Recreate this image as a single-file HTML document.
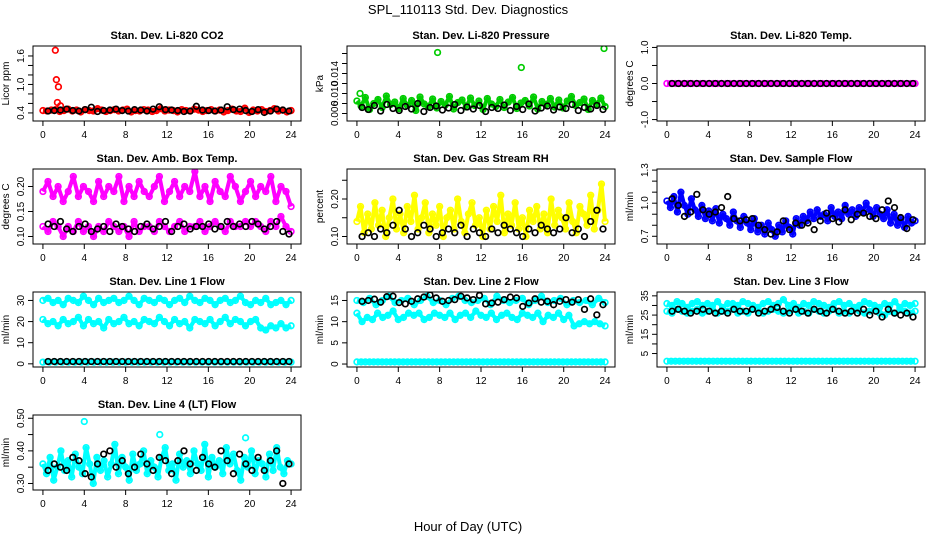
<!DOCTYPE html>
<html><head><meta charset="utf-8"><style>
body{margin:0;background:#fff}
svg{display:block;font-family:"Liberation Sans",sans-serif}
</style></head><body>
<svg id="c" width="936" height="540" viewBox="0 0 936 540">
<text x="468" y="14" text-anchor="middle" font-size="13">SPL_110113  Std. Dev. Diagnostics</text>
<text x="468" y="531" text-anchor="middle" font-size="13">Hour of Day (UTC)</text>
</svg>
<script>
const xTicks=[0,4,8,12,16,20,24];
const co2Red=[.45,.44,.46,.47,.43,.45,.48,.44,.46,.42,.47,.45,.44,.49,.46,.43,.45,.47,.44,.46,.48,.42,.45,.44,.47,.46,.43,.45,.49,.44,.46,.45,.42,.47,.45,.44,.48,.46,.43,.45,.47,.44,.46,.42,.45,.48,.44,.43,.50,.41,.46,.44,.47,.43,.45,.49,.44,.46,.42,.45];
const co2Black=[.44,.45,.46,.48,.45,.44,.47,.52,.43,.45,.46,.48,.45,.44,.47,.46,.44,.48,.53,.47,.46,.45,.43,.44,.54,.46,.45,.44,.46,.53,.47,.48,.45,.43,.47,.41,.44,.48,.46,.44];
const co2OutX=[1.2,1.3,1.5,1.4,1.7];
const co2OutY=[1.72,1.1,0.95,0.62,0.55];
const presGreen=[.0085,.0075,.0092,.0068,.0080,.0088,.0072,.0095,.0078,.0083,.0070,.0090,.0076,.0086,.0066,.0093,.0079,.0074,.0089,.0071,.0084,.0077,.0094,.0069,.0082,.0087,.0073,.0091,.0076,.0085,.0068,.0090,.0079,.0074,.0088,.0072,.0083,.0092,.0070,.0081,.0086,.0075,.0093,.0069,.0084,.0078,.0090,.0073,.0087,.0071,.0085,.0094,.0076,.0082,.0089,.0068,.0086,.0079,.0091,.0074];
const presBlack=[.0072,.0068,.0076,.0065,.0078,.0070,.0066,.0074,.0069,.0080,.0064,.0072,.0075,.0067,.0071,.0078,.0066,.0073,.0069,.0076,.0064,.0072,.0070,.0077,.0066,.0074,.0068,.0079,.0065,.0071,.0075,.0067,.0073,.0070,.0078,.0066,.0072,.0069,.0076,.0068];
const presOutX=[7.8,15.9,23.9,0.3];
const presOutY=[.0182,.0152,.0190,.0100];
const tempMag=new Array(60).fill(0);
const tempBlack=new Array(40).fill(0);
const ambHi=[.19,.21,.18,.20,.17,.19,.22,.18,.20,.19,.17,.21,.18,.20,.19,.22,.17,.20,.18,.21,.19,.18,.20,.22,.17,.19,.21,.18,.20,.19,.23,.18,.20,.17,.21,.19,.18,.22,.20,.17,.19,.21,.18,.20,.19,.22,.17,.20,.19,.16];
const ambLo=[.12,.11,.13,.12,.10,.12,.11,.13,.11,.12,.10,.12,.11,.13,.12,.11,.12,.10,.13,.11,.12,.12,.11,.13,.12,.11,.12,.13,.11,.12,.12,.13,.11,.12,.13,.12,.11,.13,.12,.12,.13,.12,.13,.12,.11,.13,.12,.14,.12,.11];
const ambBlack=[.125,.12,.13,.115,.11,.12,.125,.11,.115,.12,.11,.125,.12,.115,.11,.12,.125,.115,.12,.13,.11,.12,.125,.115,.12,.12,.125,.115,.12,.13,.12,.125,.12,.13,.125,.115,.12,.13,.11,.105];
const rhYel=[.14,.18,.11,.16,.12,.19,.13,.17,.10,.15,.20,.12,.16,.11,.18,.14,.21,.12,.15,.19,.11,.16,.13,.18,.10,.15,.17,.12,.20,.14,.11,.16,.19,.13,.15,.10,.17,.12,.18,.14,.21,.11,.16,.13,.19,.12,.15,.10,.17,.14,.18,.12,.16,.11,.20,.13,.17,.15,.12,.19,.14,.11,.18,.16,.13,.21,.12,.17,.24,.14];
const rhBlack=[.10,.11,.10,.12,.11,.13,.17,.12,.10,.11,.13,.12,.10,.11,.12,.11,.13,.10,.12,.11,.10,.12,.11,.13,.12,.11,.10,.12,.11,.13,.12,.11,.12,.15,.11,.12,.10,.14,.17,.12];
const flowBlue=[1.02,.96,1.06,.92,1.10,.98,.90,1.04,.94,.88,.98,.86,.93,.84,.95,.82,.90,.86,.80,.92,.84,.78,.88,.82,.76,.86,.74,.80,.72,.82,.76,.70,.80,.74,.84,.78,.72,.86,.80,.88,.84,.92,.86,.94,.88,.90,.84,.96,.88,.92,.86,.98,.90,.94,.88,.96,.92,1.00,.94,.88,.96,.90,.86,.94,.82,.90,.80,.86,.78,.88,.82,.84];
const flowBlack=[1.04,.98,.88,.92,1.08,.94,.90,.92,.96,1.06,.86,.84,.85,.86,.80,.76,.72,.74,.84,.76,.82,.80,.82,.76,.84,.91,.86,.83,.94,.85,.90,.91,.88,.86,.94,1.02,.96,.87,.77,.85];
const l1Hi=[30,31,29,30,28,31,30,29,32,30,28,31,29,30,31,29,30,32,30,28,31,30,29,31,30,28,30,31,29,32,30,29,31,30,28,30,31,29,30,32,29,28,30,29,31,28,29,30,28,30];
const l1Mid=[21,19,20,18,21,19,20,22,18,21,19,20,17,21,19,20,22,19,20,18,21,20,19,22,20,18,21,19,20,17,21,20,19,21,18,20,22,19,21,20,18,20,21,17,16,18,17,19,17,18];
const l1Zero=new Array(40).fill(0.8);
const l1Black=new Array(40).fill(1.1);
const l2Hi=[15,14.5,15.5,14,15,16,14.5,15,15.5,14,15,16,14.5,15,14,15.5,16,15,14.5,15,15.5,14,16,15,14.5,15,15.5,14,15,16,14.5,15,15.5,14,15,14.5,15,14,15.5,14.5];
const l2Mid=[12,10,11,10.5,12,11,11.5,12.5,10.5,11,12,11.5,12,10.5,11,12,11.5,11,12,10.5,11.5,12,11,12.5,11.5,11,12,10.5,11.5,12,11,10.5,12,11.5,11,12,10,11.5,11,12,10.5,11.5,9,9.5,10,9.5,10,9.5,9];
const l2Zero=new Array(60).fill(0.5);
const l2Black=[14.8,15,15.3,14.6,15.9,16,14.5,14.2,14.8,15.4,15.8,16.3,15.6,14.8,15,15.2,16,15.6,15.2,16.2,14.2,14.4,14.6,15.2,15.8,15.6,13.6,14.4,15.4,14.6,14.8,14,14.8,15.2,14.6,15.2,12.9,15.4,11.6,14];
const l3Hi=[31,30,32,31,29,31,32,30,31,30,32,29,31,31,30,32,31,30,29,31,32,30,31,33,30,31,29,31,30,32,31,30,29,31,32,30,31,29,30,32,31,30,29,31,30,32,29,31,30,31];
const l3Mid=[27,26,28,27,26,27,28,26,27,28,26,27,27,28,26,27,26,28,27,26,27,28,27,26,27,28,26,27,26,28,27,26,27,28,26,27,26,28,27,26,27,28,26,25,27,26,28,27,26,27];
const l3Low=new Array(60).fill(1);
const l3Black=[27,28,27,26,27,28,27,26,27,26,28,27,27,28,26,27,28,29,27,26,28,27,26,28,27,26,28,27,26,27,26,28,25,27,24,28,26,25,26,24];
const l4Cyan=[.36,.33,.38,.31,.35,.40,.34,.37,.32,.39,.35,.33,.41,.36,.30,.38,.34,.37,.32,.36,.42,.33,.38,.35,.31,.39,.34,.36,.40,.33,.37,.35,.32,.38,.41,.34,.36,.31,.39,.35,.37,.33,.40,.36,.34,.42,.32,.38,.35,.37,.33,.41,.36,.39,.34,.31,.38,.35,.40,.33,.37,.36,.32,.39,.34,.41,.35,.33,.37,.36];
const l4Black=[.34,.36,.35,.34,.38,.37,.33,.32,.36,.39,.40,.35,.37,.33,.35,.39,.36,.34,.38,.37,.33,.37,.40,.36,.34,.38,.36,.35,.40,.37,.33,.39,.36,.34,.38,.34,.37,.40,.30,.36];
const l4OutX=[4,11.3,19.6];
const l4OutY=[.49,.45,.44];

const svg=document.getElementById('c');
const NS='http://www.w3.org/2000/svg';
function mk(tag,attrs,parent){const e=document.createElementNS(NS,tag);for(const k in attrs)e.setAttribute(k,attrs[k]);parent.appendChild(e);return e;}
const colX=[33,347,657],rowY=[46,169,292,415],W=268,H=75;
function panel(col,row,title,ylab,ymin,ymax,ticks,labels,series,key){
  const g=mk('g',{},svg);
  
  
  const L=colX[col],T=rowY[row];
  const xs=v=>L+(v+0.96)/25.92*W;
  const ys=v=>T+H-(v-ymin)/(ymax-ymin)*H;
  const t=mk('text',{x:L+W/2,y:T-7,'text-anchor':'middle','font-size':11,'font-weight':'bold'},g);t.textContent=title;
  
  
  const yl=mk('text',{x:0,y:0,'text-anchor':'middle','font-size':10,transform:`translate(${L-24},${T+H/2}) rotate(-90)`},g);yl.textContent=ylab;
  
  
  xTicks.forEach(v=>{const x=xs(v);mk('line',{x1:x,x2:x,y1:T+H,y2:T+H+5,stroke:'#000'},g);
    const tx=mk('text',{x:x,y:T+H+17,'text-anchor':'middle','font-size':10},g);tx.textContent=v;
    
    });
  ticks.forEach((v,i)=>{const y=ys(v);mk('line',{x1:L-5,x2:L,y1:y,y2:y,stroke:'#000'},g);
    if(labels[i]){const ty=mk('text',{x:0,y:0,'text-anchor':'middle','font-size':10,transform:`translate(${L-9},${y}) rotate(-90)`},g);ty.textContent=labels[i];
    
    }});
  const clip='clip'+key;
  const cp=mk('clipPath',{id:clip},g);mk('rect',{x:L,y:T,width:W,height:H},cp);
  const pg=mk('g',{'clip-path':`url(#${clip})`},g);
  series.forEach(s=>{
    const n=s.y.length;
    const pts=s.y.map((v,i)=>{
      const xv=s.x?s.x[i]:(s.x0+(s.x1-s.x0)*i/(n-1));
      return [xs(xv),ys(v)];
    });
    if(s.dense){
      const pl=mk('polyline',{points:pts.map(p=>p.join(',')).join(' '),fill:'none',stroke:s.c,'stroke-width':4,'stroke-linejoin':'round'},pg);
      
      
    }
    pts.forEach(p=>{
      const c=mk('circle',{cx:p[0],cy:p[1],r:2.8,fill:'none',stroke:s.c,'stroke-width':1.7},pg);
      
      
    });
  });
  const b=mk('rect',{x:L,y:T,width:W,height:H,fill:'none',stroke:'#000'},g);
  
  
}
const RED='#ff0000',GRN='#00cc00',MAG='#ff00ff',YEL='#ffff00',BLU='#0000ff',CY='#00ffff',BK='#000';
panel(0,0,'Stan. Dev. Li-820 CO2','Licor ppm',0.23,1.81,[.4,.6,.8,1,1.2,1.4,1.6],['0.4','','','1.0','','','1.6'],
 [{y:co2Red,c:RED,x0:0,x1:24,n:'co2',dense:1},{x:co2OutX,y:co2OutY,c:RED,n:'co2-outlier'},{y:co2Black,c:BK,x0:0.5,x1:23.8,n:'co2-hourly'}],'co2');
panel(1,0,'Stan. Dev. Li-820 Pressure','kPa',0.0045,0.0195,[.006,.008,.010,.012,.014,.016,.018],['0.006','','0.010','','0.014','',''],
 [{y:presGreen,c:GRN,x0:0,x1:24,n:'pressure',dense:1},{x:presOutX,y:presOutY,c:GRN,n:'pressure-outlier'},{y:presBlack,c:BK,x0:0.5,x1:23.8,n:'pressure-hourly'}],'pressure');
panel(2,0,'Stan. Dev. Li-820 Temp.','degrees C',-1.04,1.04,[-1,-.5,0,.5,1],['-1.0','','0.0','','1.0'],
 [{y:tempMag,c:MAG,x0:0,x1:24,n:'temp',dense:1},{y:tempBlack,c:BK,x0:0.5,x1:23.8,n:'temp-hourly'}],'temp');
panel(0,1,'Stan. Dev. Amb. Box Temp.','degrees C',0.085,0.235,[.10,.15,.20],['0.10','0.15','0.20'],
 [{y:ambHi,c:MAG,x0:0,x1:24,n:'amb-high',dense:1},{y:ambLo,c:MAG,x0:0,x1:24,n:'amb-low',dense:1},{y:ambBlack,c:BK,x0:0.5,x1:23.8,n:'amb-hourly'}],'amb');
panel(1,1,'Stan. Dev. Gas Stream RH','percent',0.08,0.28,[.10,.15,.20,.25],['0.10','','0.20',''],
 [{y:rhYel,c:YEL,x0:0,x1:24,n:'rh',dense:1},{y:rhBlack,c:BK,x0:0.5,x1:23.8,n:'rh-hourly'}],'rh');
panel(2,1,'Stan. Dev. Sample Flow','ml/min',0.63,1.31,[.7,.8,.9,1,1.1,1.2,1.3],['0.7','','','1.0','','','1.3'],
 [{y:flowBlue,c:BLU,x0:0,x1:24,n:'sample-flow',dense:1},{y:flowBlack,c:BK,x0:0.5,x1:23.8,n:'sample-flow-hourly'}],'sample-flow');
panel(0,2,'Stan. Dev. Line 1 Flow','ml/min',-1.5,34,[0,10,20,30],['0','10','20','30'],
 [{y:l1Hi,c:CY,x0:0,x1:24,n:'line1-high',dense:1},{y:l1Mid,c:CY,x0:0,x1:24,n:'line1-mid',dense:1},{y:l1Zero,c:CY,x0:0,x1:24,n:'line1-zero',dense:1},{y:l1Black,c:BK,x0:0.5,x1:23.8,n:'line1-hourly'}],'line1');
panel(1,2,'Stan. Dev. Line 2 Flow','ml/min',-0.7,17,[0,5,10,15],['0','5','10','15'],
 [{y:l2Hi,c:CY,x0:0,x1:24,n:'line2-high',dense:1},{y:l2Mid,c:CY,x0:0,x1:24,n:'line2-mid',dense:1},{y:l2Zero,c:CY,x0:0,x1:24,n:'line2-zero',dense:1},{y:l2Black,c:BK,x0:0.5,x1:23.8,n:'line2-hourly'}],'line2');
panel(2,2,'Stan. Dev. Line 3 Flow','ml/min',-2,37,[5,10,15,20,25,30,35],['5','','15','','25','','35'],
 [{y:l3Hi,c:CY,x0:0,x1:24,n:'line3-high',dense:1},{y:l3Mid,c:CY,x0:0,x1:24,n:'line3-mid',dense:1},{y:l3Low,c:CY,x0:0,x1:24,n:'line3-low',dense:1},{y:l3Black,c:BK,x0:0.5,x1:23.8,n:'line3-hourly'}],'line3');
panel(0,3,'Stan. Dev. Line 4 (LT) Flow','ml/min',0.28,0.51,[.30,.35,.40,.45,.50],['0.30','','0.40','','0.50'],
 [{y:l4Cyan,c:CY,x0:0,x1:24,n:'line4',dense:1},{x:l4OutX,y:l4OutY,c:CY,n:'line4-outlier'},{y:l4Black,c:BK,x0:0.5,x1:23.8,n:'line4-hourly'}],'line4');
</script>
</body></html>
